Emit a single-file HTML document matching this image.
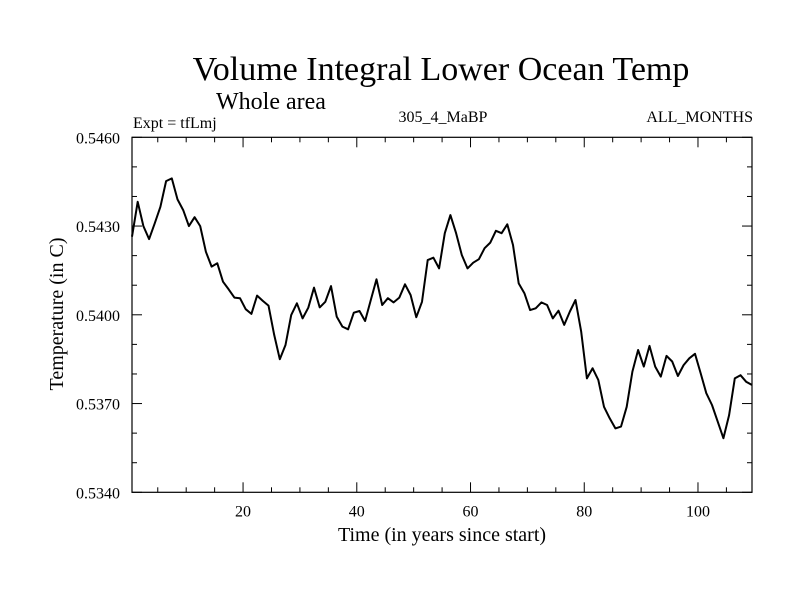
<!DOCTYPE html>
<html><head><meta charset="utf-8"><style>
body{margin:0;background:#fff}
svg{display:block;font-family:"Liberation Serif",serif}
</style></head><body>
<svg id="chart" width="800" height="600">
<text x="441" y="80" font-size="34" text-anchor="middle">Volume Integral Lower Ocean Temp</text>
<text x="271" y="109" font-size="24" text-anchor="middle">Whole area</text>
<text x="133" y="128" font-size="16">Expt = tfLmj</text>
<text x="443" y="122" font-size="16" text-anchor="middle">305_4_MaBP</text>
<text x="753" y="122" font-size="16" text-anchor="end">ALL_MONTHS</text>
<text x="442" y="541" font-size="20" text-anchor="middle">Time (in years since start)</text>
<text transform="translate(63,314) rotate(-90)" font-size="20" text-anchor="middle">Temperature (in C)</text>
<g id="axes"></g>
<path id="line" fill="none" stroke="#000" stroke-width="2" stroke-linejoin="round"/>
<rect x="132" y="137.3" width="620" height="355" fill="none" stroke="#000" stroke-width="1.2"/>
</svg>
<script>
const temps=[0.54264,0.54382,0.54300,0.54256,0.54309,0.54365,0.54452,0.54461,0.54390,0.54354,0.54300,0.54330,0.54300,
0.54213,0.54163,0.54174,0.54112,0.54086,0.54058,0.54056,0.54019,0.54003,0.54065,0.54047,0.54031,0.53932,0.53850,0.53898,0.53999,0.54039,0.53988,0.54024,0.54092,0.54025,0.54044,0.54097,0.53994,0.53960,0.53951,0.54007,0.54013,0.53979,0.54050,0.54120,0.54033,0.54056,0.54042,0.54058,0.54103,0.54067,0.53992,0.54044,0.54185,0.54193,0.54157,0.54276,0.54337,
0.54276,0.54202,0.54157,0.54176,0.54188,0.54225,0.54244,0.54284,0.54276,0.54306,0.54236,0.54106,0.54073,0.54016,0.54022,0.54042,0.54033,0.53988,0.54014,0.53966,0.54011,0.54050,0.53943,0.53785,0.53819,0.53780,0.53689,0.53650,0.53616,0.53622,0.53689,0.53808,0.53881,0.53825,0.53895,0.53825,0.53791,0.53861,0.53842,0.53793,0.53830,0.53853,0.53868,0.53802,0.53735,0.53695,0.53639,0.53583,0.53661,0.53785,0.53796,0.53774,0.53763];
const xTickLabels=[20,40,60,80,100];
const yTickLabels=["0.5340","0.5370","0.5400","0.5430","0.5460"];
const XMIN=0.47,XMAX=109.5,YMIN=0.534,YMAX=0.546;
const L=132,R=752,T=137.3,B=492.3;
const sx=v=>L+(v-XMIN)/(XMAX-XMIN)*(R-L);
const sy=v=>B-(v-YMIN)/(YMAX-YMIN)*(B-T);
const ns="http://www.w3.org/2000/svg";
const axes=document.getElementById('axes');
function mk(tag,attrs){const e=document.createElementNS(ns,tag);for(const k in attrs)e.setAttribute(k,attrs[k]);axes.appendChild(e);return e;}
for(let v=5;v<=XMAX;v+=5){const major=v%20===0;const len=major?10:5;
 let t=mk('line',{x1:sx(v),x2:sx(v),y1:B,y2:B-len,stroke:'#000'});
 
 
 let t2=mk('line',{x1:sx(v),x2:sx(v),y1:T,y2:T+len,stroke:'#000'});
 
 }
xTickLabels.forEach(v=>{const t=mk('text',{x:sx(v),y:B+24,'font-size':16,'text-anchor':'middle'});t.textContent=v;
 
 });
for(let i=0;i<=12;i++){const v=YMIN+i*0.001;const major=i%3===0;const len=major?10:5;
 let t=mk('line',{x1:L,x2:L+len,y1:sy(v),y2:sy(v),stroke:'#000'});
 
 
 let t2=mk('line',{x1:R,x2:R-len,y1:sy(v),y2:sy(v),stroke:'#000'});
 
 }
yTickLabels.forEach(s=>{const t=mk('text',{x:L-12,y:sy(parseFloat(s))+6,'font-size':16,'text-anchor':'end'});t.textContent=s;
 
 });
document.getElementById('line').setAttribute('d',temps.map((v,i)=>(i?'L':'M')+sx(XMIN+i).toFixed(1)+','+sy(v).toFixed(1)).join(''));
</script>
</body></html>
